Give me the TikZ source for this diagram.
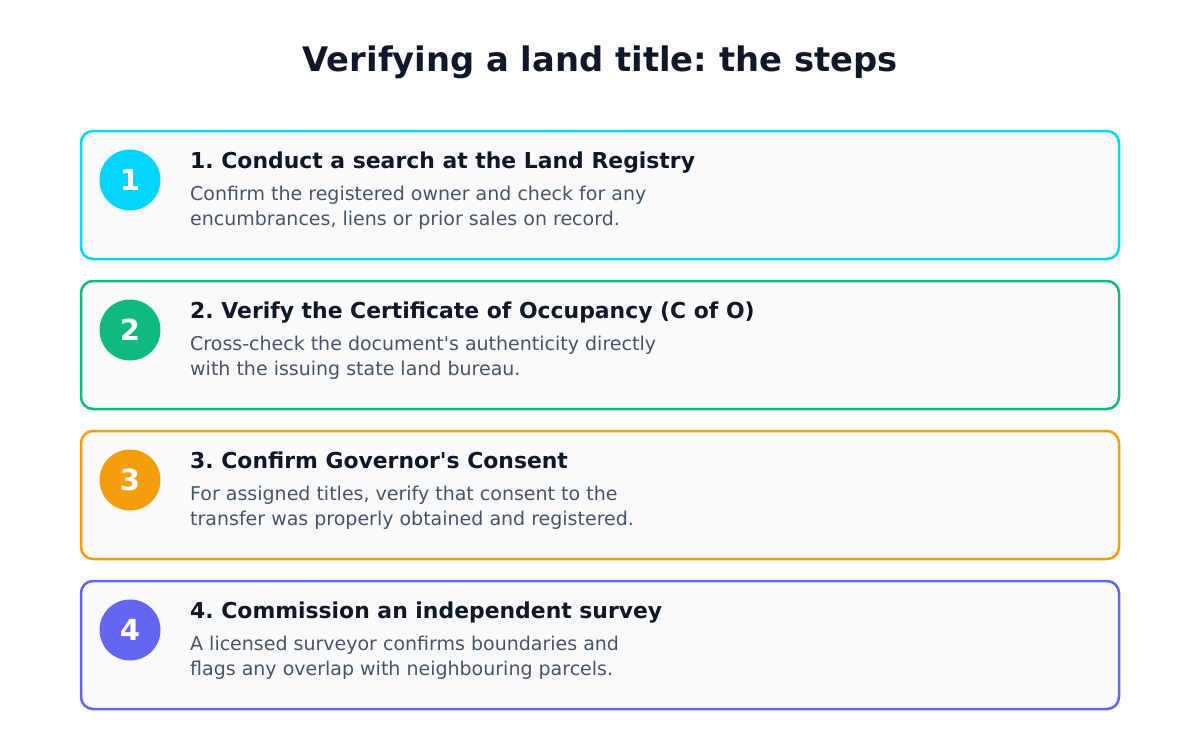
\documentclass[tikz,border=0pt]{standalone}
\usepackage{fontspec}
\setmainfont{DejaVu Sans}[Ligatures=TeXOff]
\frenchspacing
\definecolor{ink}{HTML}{0F172A}
\definecolor{muted}{HTML}{475569}
\definecolor{cardbg}{HTML}{F8FAFC}
\definecolor{cA}{HTML}{00D4FF}
\definecolor{cB}{HTML}{10B981}
\definecolor{cC}{HTML}{F59E0B}
\definecolor{cD}{HTML}{6366F1}
\begin{document}
\begin{tikzpicture}[x=1pt,y=-1pt,
  card/.style={draw=#1, line width=2.5pt, fill=cardbg, rounded corners=12pt},
  badge/.style={circle, fill=#1, minimum size=61pt, inner sep=0pt, text=white, font=\fontsize{29}{32}\selectfont\bfseries},
  head/.style={anchor=base west, inner sep=0pt, text=ink, font=\fontsize{21.9}{26}\selectfont\bfseries},
  desc/.style={anchor=base west, inner sep=0pt, text=muted, align=left, font=\fontsize{19}{25}\selectfont}]
\useasboundingbox (0,0) rectangle (1200,750);
\fill[white] (0,0) rectangle (1200,750);
\node[text=ink, font=\fontsize{33.8}{38}\selectfont\bfseries] (title) at (600,62.5) {Verifying a land title: the steps};
% card 1
\draw[card=cA] (81,131) rectangle (1119,259);
\node[badge=cA] (b1) at (130,180) {1};
\node[head] (h1) at (190,168) {1. Conduct a search at the Land Registry};
\node[desc] (d1) at (190,225) {Confirm the registered owner and check for any\\encumbrances, liens or prior sales on record.};
% card 2
\draw[card=cB] (81,281) rectangle (1119,409);
\node[badge=cB] (b2) at (130,330) {2};
\node[head] (h2) at (190,318) {2. Verify the Certificate of Occupancy (C of O)};
\node[desc] (d2) at (190,375) {Cross-check the document's authenticity directly\\with the issuing state land bureau.};
% card 3
\draw[card=cC] (81,431) rectangle (1119,559);
\node[badge=cC] (b3) at (130,480) {3};
\node[head] (h3) at (190,468) {3. Confirm Governor's Consent};
\node[desc] (d3) at (190,525) {For assigned titles, verify that consent to the\\transfer was properly obtained and registered.};
% card 4
\draw[card=cD] (81,581) rectangle (1119,709);
\node[badge=cD] (b4) at (130,630) {4};
\node[head] (h4) at (190,618) {4. Commission an independent survey};
\node[desc] (d4) at (190,675) {A licensed surveyor confirms boundaries and\\flags any overlap with neighbouring parcels.};
\end{tikzpicture}
\end{document}
